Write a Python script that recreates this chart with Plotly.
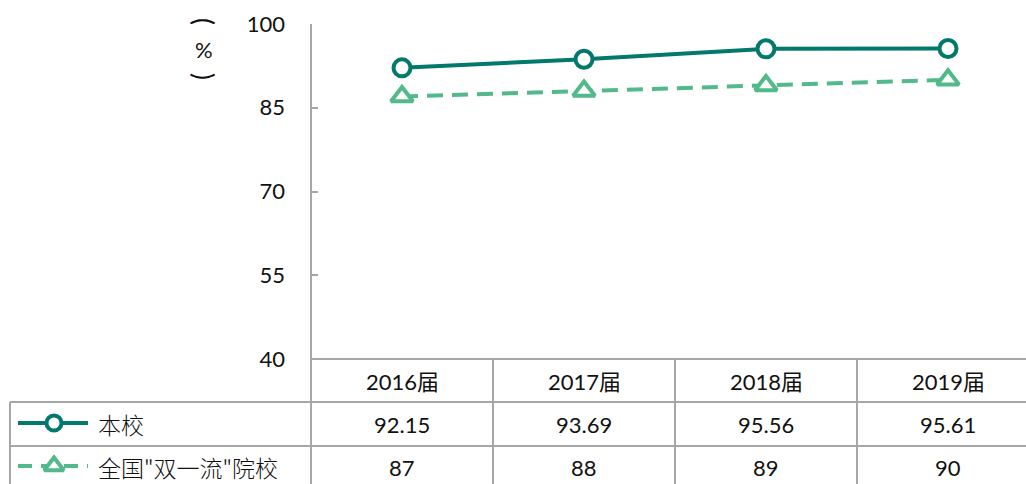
import plotly.graph_objects as go

# Graduate employment rate by cohort, with a data table below the plot
years = ["2016届", "2017届", "2018届", "2019届"]
school = [92.15, 93.69, 95.56, 95.61]
national = [87, 88, 89, 90]
series_names = ["本校", "全国\"双一流\"院校"]
y_ticks = [40, 55, 70, 85, 100]

W, H = 1026, 484
DARK = "#03786D"
LIGHT = "#52B98A"
GRID = "#A6A6A6"
TXT = "#111111"
FONT = "Lato, 'Noto Sans CJK SC', sans-serif"
CJK_FONT = "'Noto Sans CJK SC', sans-serif"

# pixel layout of the plot area and table
PX_LEFT, PX_TOP, PX_BOTTOM = 311, 24, 359
COL_W = 182
ROW_LINES = [402, 446]
TABLE_LEFT = 10


def px(x):
    return x / W


def py(y):
    return 1 - y / H


xs = list(range(len(years)))

fig = go.Figure()

fig.add_trace(go.Scatter(
    x=xs, y=school, mode="lines+markers", name=series_names[0],
    line=dict(color=DARK, width=4),
    marker=dict(symbol="circle", size=17, color="white",
                line=dict(color=DARK, width=4)),
    showlegend=False,
))
fig.add_trace(go.Scatter(
    x=xs, y=national, mode="lines+markers", name=series_names[1],
    line=dict(color=LIGHT, width=4, dash="16px,9px"),
    marker=dict(symbol="triangle-up", size=19, color="white",
                line=dict(color=LIGHT, width=4)),
    showlegend=False,
))

# legend keys inside the table, drawn on a pixel-space axis pair
key_rows = [(423, DARK, "solid", "circle", 15),
            (466, LIGHT, "14px,9px", "triangle-up", 17)]
for (ky, col, dash, sym, msize) in key_rows:
    fig.add_trace(go.Scatter(
        x=[18, 88], y=[ky, ky], mode="lines", xaxis="x2", yaxis="y2",
        line=dict(color=col, width=4, dash=dash), showlegend=False,
        hoverinfo="skip",
    ))
    fig.add_trace(go.Scatter(
        x=[54], y=[ky], mode="markers", xaxis="x2", yaxis="y2",
        marker=dict(symbol=sym, size=msize, color="white",
                    line=dict(color=col, width=4)),
        showlegend=False, hoverinfo="skip",
    ))

x_range_right = -0.5 + (W - PX_LEFT) / COL_W

fig.update_layout(
    width=W, height=H, autosize=False,
    margin=dict(l=0, r=0, t=0, b=0, pad=0),
    paper_bgcolor="white", plot_bgcolor="rgba(0,0,0,0)",
    font=dict(family=FONT, size=22, color=TXT),
    xaxis=dict(domain=[px(PX_LEFT), 1], range=[-0.5, x_range_right],
               showticklabels=False, showgrid=False, zeroline=False,
               showline=False, fixedrange=True, automargin=False),
    yaxis=dict(domain=[py(PX_BOTTOM), py(PX_TOP)], range=[40, 100],
               tickvals=y_ticks, ticks="inside", ticklen=7,
               tickcolor=GRID, tickwidth=2, showline=False,
               showgrid=False, zeroline=False, ticklabelstandoff=25,
               automargin=False, fixedrange=True,
               tickfont=dict(size=22, family=FONT, color=TXT)),
    xaxis2=dict(domain=[0, 1], range=[0, W], visible=False,
                anchor="y2", fixedrange=True, automargin=False),
    yaxis2=dict(domain=[0, 1], range=[H, 0], visible=False,
                anchor="x2", fixedrange=True, automargin=False),
)

shapes = []


def line(x0, y0, x1, y1):
    shapes.append(dict(type="line", xref="paper", yref="paper",
                       x0=px(x0), y0=py(y0), x1=px(x1), y1=py(y1),
                       line=dict(color=GRID, width=2)))


# vertical axis line continues down through the table
line(PX_LEFT, PX_TOP, PX_LEFT, H)
# plot bottom / table header top
line(PX_LEFT, PX_BOTTOM, W, PX_BOTTOM)
for ry in ROW_LINES:
    line(TABLE_LEFT, ry, W, ry)
line(TABLE_LEFT, ROW_LINES[0], TABLE_LEFT, H)
for i in range(1, len(years)):
    cx = PX_LEFT + i * COL_W
    line(cx, PX_BOTTOM, cx, H)

annotations = []


def text(x, y, s, xanchor="center", family=FONT, size=22, weight=None,
         angle=0):
    f = dict(size=size, family=family, color=TXT)
    if weight is not None:
        f["weight"] = weight
    annotations.append(dict(xref="paper", yref="paper", x=px(x), y=py(y),
                            text=s, showarrow=False, xanchor=xanchor,
                            yanchor="middle", font=f, textangle=angle))


row_y = [381, 424, 467]
for i, yr in enumerate(years):
    cx = PX_LEFT + (i + 0.5) * COL_W
    text(cx, row_y[0], yr)
    text(cx, row_y[1], f"{school[i]:.2f}")
    text(cx, row_y[2], f"{national[i]:g}")

text(96, row_y[1], series_names[0], xanchor="left", family=CJK_FONT,
     size=23, weight=300)
text(96, row_y[2], series_names[1], xanchor="left", family=CJK_FONT,
     size=23, weight=300)

# vertical unit label "(%)": brackets turned sideways, percent sign upright
text(204, 21, "(", size=26, angle=90)
text(204, 49, "%", size=22)
text(204, 76, ")", size=26, angle=90)

fig.update_layout(shapes=shapes, annotations=annotations)

fig.write_html("out.html")
